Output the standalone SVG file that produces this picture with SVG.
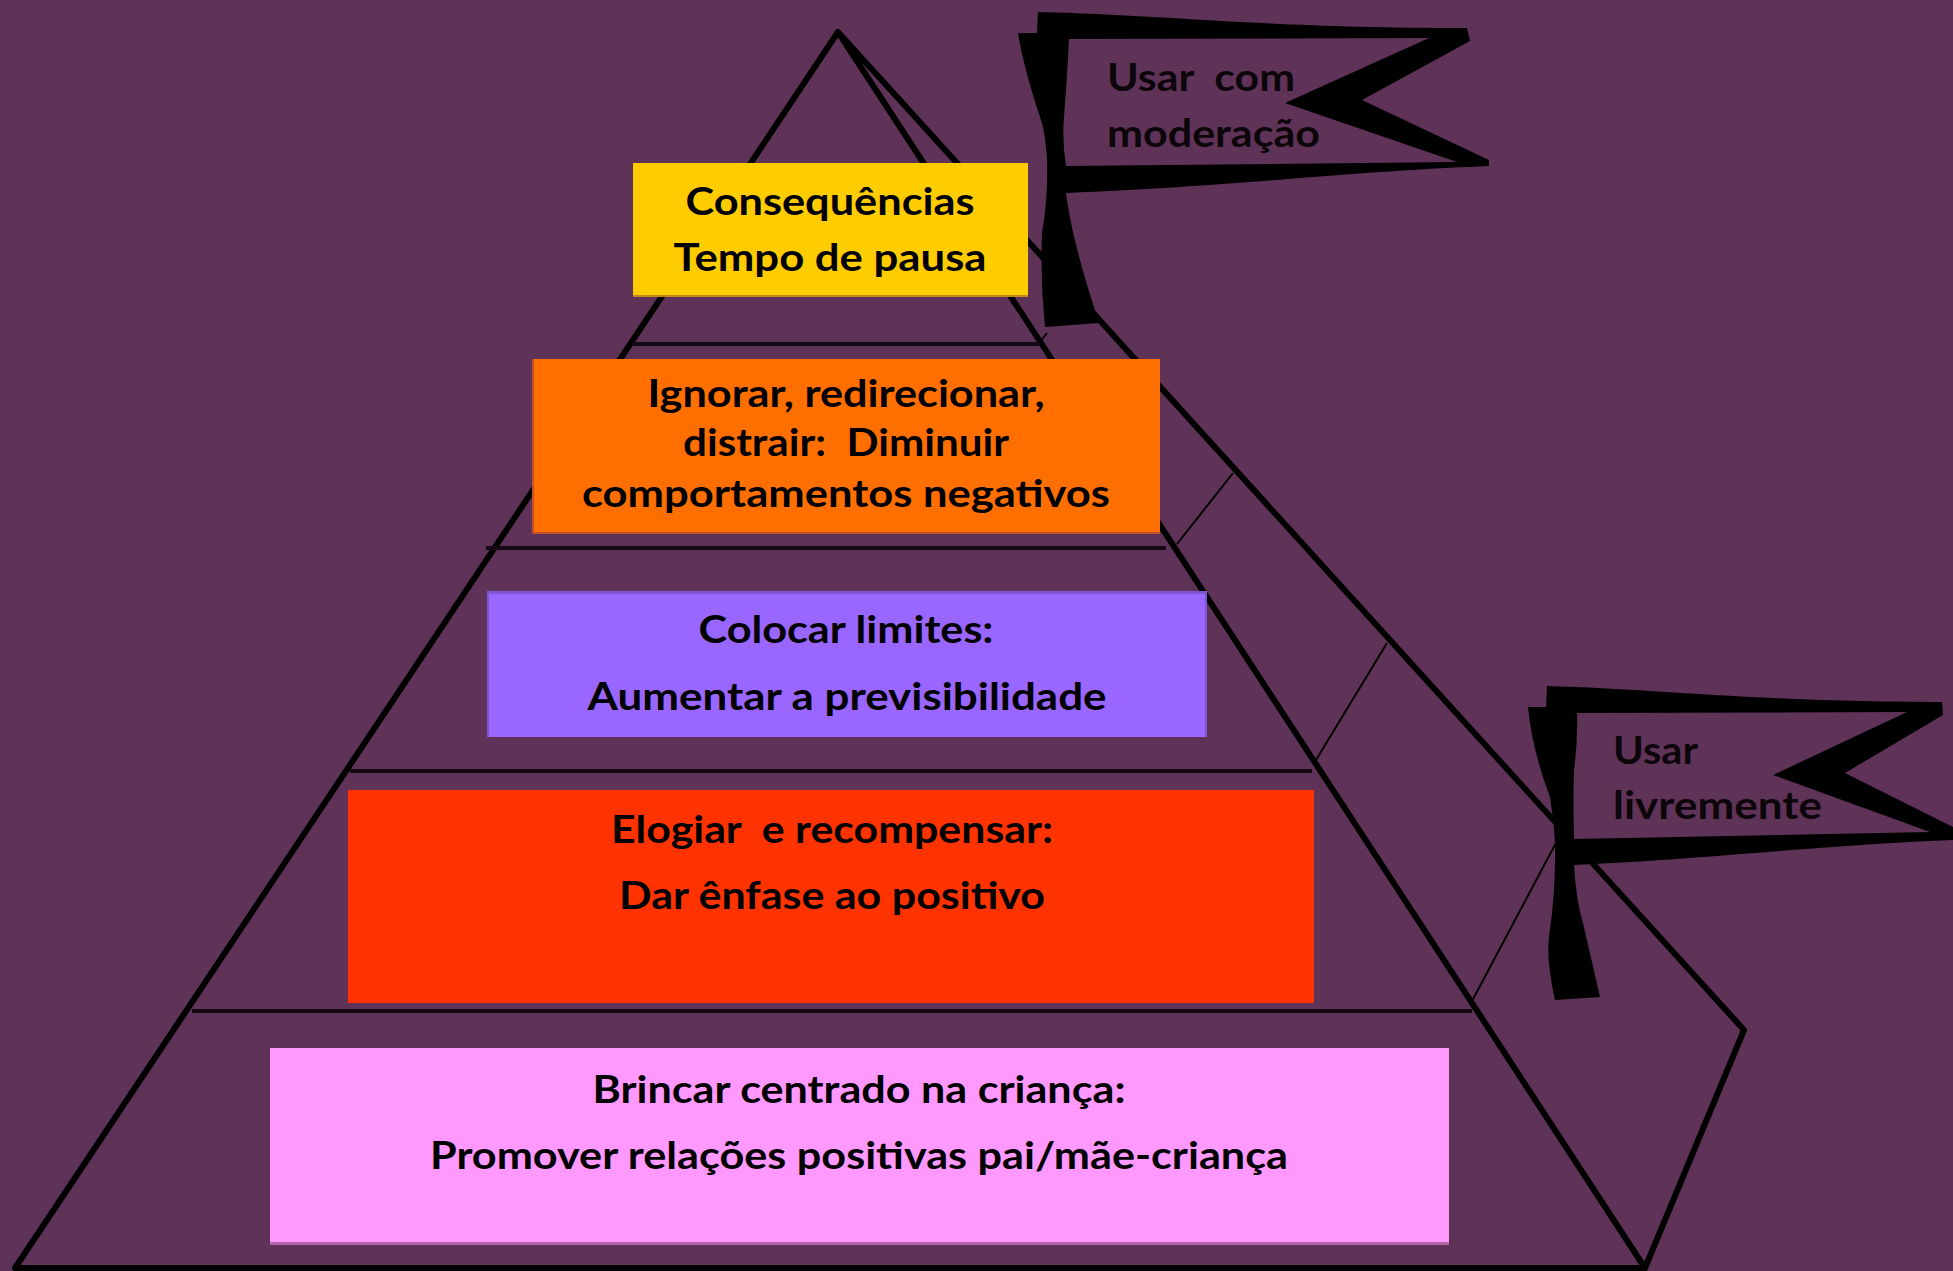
<svg xmlns="http://www.w3.org/2000/svg" width="1953" height="1271" viewBox="0 0 1953 1271">
<style>
.l{fill:none;stroke:#000;stroke-width:6;stroke-linejoin:round;stroke-linecap:round}
.h{fill:none;stroke:#140a14;stroke-width:4}
.t{fill:none;stroke:#000;stroke-width:2}
.f{fill:#000;fill-rule:evenodd}
text{font-family:Lato,"Liberation Sans",sans-serif;font-size:38px;font-weight:700;fill:#000;text-anchor:middle}
.n{font-size:39px;font-weight:700;text-anchor:start;fill:#0c060b}
</style>
<rect width="1953" height="1271" fill="#5f3357"/>
<g id="connectors">
<path class="l" d="M838 32L15 1268H1645L838 32L1744 1030L1645 1268"/>
<path class="h" d="M632 344H1040M486 548H1166M350 771H1312M192 1011H1472"/>
<path class="t" d="M1177 544L1233 473M1316 760L1387 643M1471 1003L1557 841M1040 342L1047 333"/>
</g>
<g id="flag-moderacao">
<path class="f" d="M1038 12C1170 15 1260 28 1467 28L1470 41L1362 100L1489 160V166C1340 172 1240 186 1066 193Q1072 240 1095 310L1099 323L1045 327Q1040 280 1042 233Q1048 200 1047 160Q1046 140 1042 123Q1024 70 1018 33L1037 33ZM1069 39L1429 38L1285 103L1457 162L1066 166Q1062 140 1064 117Q1067 80 1069 39Z"/>
<text class="n" x="1107" y="91" textLength="188" lengthAdjust="spacingAndGlyphs" xml:space="preserve">Usar  com</text>
<text class="n" x="1107" y="147" textLength="213" lengthAdjust="spacingAndGlyphs">moderação</text>
</g>
<g id="flag-livremente">
<path class="f" d="M1547 686C1660 689 1740 701 1942 702L1943 715L1845 773L1953 827V840C1810 846 1720 858 1574 865Q1576 900 1583 923L1600 997L1555 1000Q1546 960 1549 937Q1556 890 1555 843Q1554 820 1550 797Q1532 750 1528 707L1546 707ZM1577 713L1907 712L1773 775L1930 832L1574 839Q1573 800 1574 770Q1578 740 1577 713Z"/>
<text class="n" x="1613" y="764" textLength="85" lengthAdjust="spacingAndGlyphs">Usar</text>
<text class="n" x="1613" y="819" textLength="209" lengthAdjust="spacingAndGlyphs">livremente</text>
</g>
<g id="nivel-consequencias">
<rect x="633" y="163" width="395" height="134" fill="#ffcc00"/>
<rect x="633" y="295" width="395" height="2" fill="#c08a20"/>
<text x="830" y="215" textLength="289" lengthAdjust="spacingAndGlyphs">Consequências</text>
<text x="830" y="271" textLength="313" lengthAdjust="spacingAndGlyphs">Tempo de pausa</text>
</g>
<g id="nivel-ignorar">
<rect x="532" y="359" width="628" height="175" fill="#ff6f00"/>
<path d="M532 359h2v173h626v2h-628z" fill="#c4502a"/>
<text x="846" y="407" textLength="397" lengthAdjust="spacingAndGlyphs">Ignorar, redirecionar,</text>
<text x="846" y="456" textLength="326" lengthAdjust="spacingAndGlyphs" xml:space="preserve">distrair:  Diminuir</text>
<text x="846" y="507" textLength="528" lengthAdjust="spacingAndGlyphs">comportamentos negativos</text>
</g>
<g id="nivel-limites">
<rect x="487" y="591" width="720" height="146" fill="#9966ff"/>
<path d="M487 591h720v146h-2v-143h-716v143h-2z" fill="#7f55d4"/>
<text x="846" y="643" textLength="295" lengthAdjust="spacingAndGlyphs">Colocar limites:</text>
<text x="847" y="710" textLength="519" lengthAdjust="spacingAndGlyphs">Aumentar a previsibilidade</text>
</g>
<g id="nivel-elogiar">
<rect x="348" y="790" width="966" height="213" fill="#ff3300"/>
<text x="832" y="843" textLength="442" lengthAdjust="spacingAndGlyphs" xml:space="preserve">Elogiar  e recompensar:</text>
<text x="832" y="909" textLength="426" lengthAdjust="spacingAndGlyphs">Dar ênfase ao positivo</text>
</g>
<g id="nivel-brincar">
<rect x="270" y="1048" width="1179" height="197" fill="#ff99ff"/>
<rect x="270" y="1242" width="1179" height="3" fill="#b366a8"/>
<text x="859" y="1103" textLength="533" lengthAdjust="spacingAndGlyphs">Brincar centrado na criança:</text>
<text x="859" y="1169" textLength="858" lengthAdjust="spacingAndGlyphs">Promover relações positivas pai/mãe-criança</text>
</g>
</svg>
